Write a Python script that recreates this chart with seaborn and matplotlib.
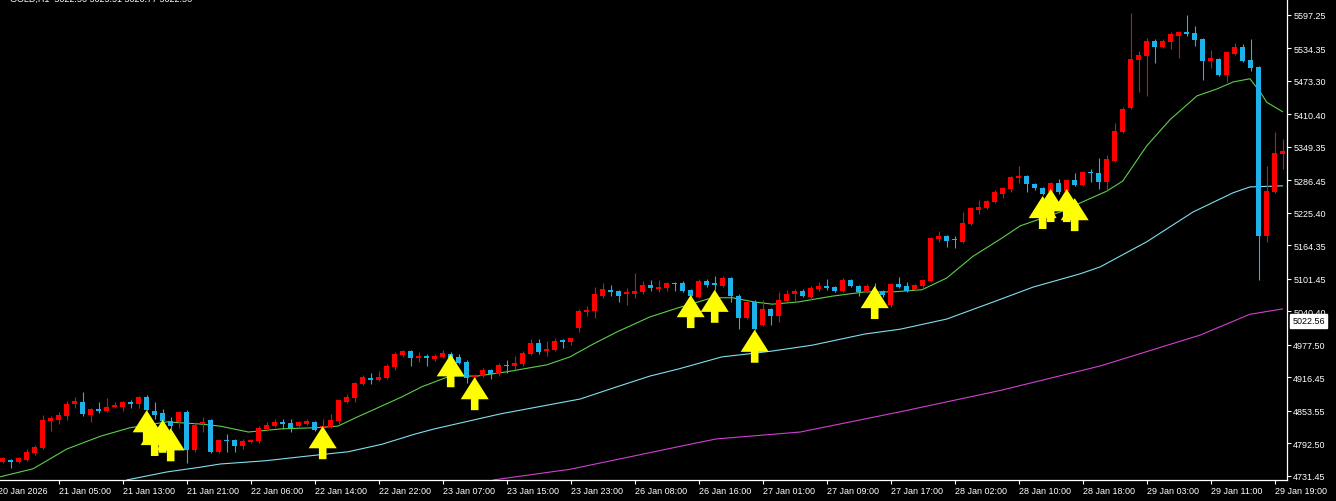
import numpy as np
import pandas as pd
import matplotlib
matplotlib.use("Agg")
import matplotlib.pyplot as plt
import matplotlib.transforms as mtransforms
from matplotlib.path import Path
from matplotlib.markers import MarkerStyle
import seaborn as sns

# GOLD H1 candles, one bar per hour (left -> right)
opens = [4758, 4761, 4758, 4761, 4775, 4784, 4835, 4837, 4844, 4867,
         4870, 4846, 4857, 4853, 4861, 4861, 4870, 4867, 4880, 4853,
         4850, 4835, 4833, 4852, 4780, 4829, 4837, 4777, 4799, 4799,
         4788, 4795, 4797, 4820, 4825, 4833, 4831, 4825, 4829, 4833,
         4823, 4823, 4835, 4870, 4878, 4904, 4915, 4912, 4915, 4936,
         4959, 4966, 4953, 4957, 4951, 4955, 4960, 4955, 4945, 4917,
         4919, 4930, 4923, 4940, 4938, 4942, 4960, 4981, 4966, 4968,
         4987, 4983, 5009, 5039, 5041, 5069, 5081, 5079, 5073, 5073,
         5077, 5090, 5082, 5084, 5094, 5094, 5081, 5067, 5097, 5094,
         5088, 5103, 5069, 5028, 5058, 5015, 5045, 5032, 5060, 5073,
         5079, 5067, 5082, 5088, 5086, 5079, 5099, 5088, 5077, 5081,
         5079, 5052, 5092, 5088, 5081, 5088, 5097, 5176, 5182, 5176,
         5171, 5204, 5231, 5234, 5246, 5261, 5270, 5291, 5295, 5280,
         5272, 5264, 5281, 5266, 5287, 5278, 5302, 5300, 5283, 5323,
         5377, 5422, 5512, 5520, 5548, 5537, 5546, 5557, 5565, 5563,
         5552, 5510, 5514, 5484, 5524, 5537, 5512, 5499, 5182, 5264,
         5336]
highs = [4767, 4763, 4767, 4782, 4790, 4846, 4844, 4852, 4872, 4880,
         4889, 4859, 4870, 4878, 4870, 4872, 4874, 4882, 4883, 4870,
         4857, 4842, 4853, 4855, 4833, 4842, 4838, 4801, 4810, 4801,
         4801, 4801, 4825, 4833, 4838, 4838, 4838, 4835, 4838, 4835,
         4838, 4848, 4876, 4885, 4908, 4921, 4925, 4928, 4942, 4964,
         4968, 4968, 4964, 4960, 4960, 4968, 4964, 4960, 4949, 4923,
         4934, 4932, 4944, 4949, 4957, 4966, 4989, 4989, 4985, 4990,
         4989, 4991, 5045, 5050, 5086, 5094, 5090, 5081, 5084, 5112,
         5097, 5099, 5099, 5096, 5095, 5097, 5082, 5101, 5101, 5107,
         5107, 5105, 5073, 5060, 5062, 5062, 5047, 5077, 5081, 5082,
         5082, 5088, 5096, 5101, 5088, 5103, 5101, 5090, 5092, 5094,
         5081, 5094, 5105, 5096, 5092, 5101, 5180, 5191, 5184, 5182,
         5227, 5236, 5249, 5249, 5268, 5274, 5295, 5313, 5296, 5281,
         5274, 5283, 5289, 5289, 5300, 5304, 5308, 5328, 5334, 5394,
         5424, 5600, 5529, 5554, 5552, 5552, 5565, 5567, 5597, 5576,
         5554, 5531, 5516, 5529, 5544, 5542, 5552, 5501, 5313, 5377,
         5364]
lows = [4756, 4746, 4756, 4760, 4771, 4782, 4816, 4829, 4837, 4859,
        4844, 4833, 4850, 4852, 4859, 4853, 4859, 4859, 4853, 4838,
        4829, 4820, 4822, 4756, 4777, 4814, 4775, 4775, 4777, 4777,
        4782, 4793, 4793, 4816, 4823, 4820, 4814, 4822, 4827, 4816,
        4820, 4822, 4829, 4868, 4870, 4902, 4904, 4910, 4913, 4930,
        4955, 4938, 4945, 4938, 4947, 4953, 4947, 4942, 4906, 4913,
        4917, 4913, 4919, 4925, 4932, 4938, 4959, 4960, 4957, 4966,
        4972, 4977, 5002, 5032, 5028, 5066, 5069, 5058, 5052, 5066,
        5073, 5079, 5077, 5079, 5079, 5077, 5066, 5066, 5086, 5081,
        5086, 5058, 5007, 5026, 5005, 5013, 5015, 5020, 5058, 5060,
        5067, 5062, 5079, 5081, 5077, 5077, 5086, 5069, 5075, 5073,
        5067, 5049, 5084, 5077, 5079, 5084, 5096, 5171, 5161, 5159,
        5169, 5203, 5223, 5233, 5244, 5253, 5264, 5281, 5264, 5268,
        5259, 5263, 5261, 5264, 5276, 5276, 5283, 5270, 5268, 5321,
        5375, 5420, 5452, 5445, 5507, 5535, 5533, 5516, 5557, 5539,
        5475, 5497, 5482, 5471, 5522, 5509, 5492, 5099, 5171, 5263,
        5308]
closes = [4765, 4758, 4765, 4777, 4786, 4837, 4840, 4846, 4867, 4872,
          4848, 4857, 4853, 4861, 4865, 4870, 4867, 4880, 4855, 4846,
          4835, 4825, 4852, 4780, 4827, 4833, 4777, 4799, 4797, 4788,
          4797, 4799, 4822, 4827, 4833, 4829, 4822, 4833, 4835, 4818,
          4825, 4837, 4874, 4880, 4906, 4917, 4912, 4917, 4938, 4960,
          4966, 4953, 4957, 4953, 4957, 4962, 4953, 4944, 4915, 4919,
          4930, 4923, 4940, 4938, 4944, 4962, 4981, 4964, 4970, 4985,
          4983, 4990, 5041, 5043, 5073, 5082, 5077, 5069, 5077, 5079,
          5090, 5084, 5086, 5094, 5092, 5079, 5069, 5097, 5090, 5090,
          5103, 5069, 5028, 5058, 5007, 5045, 5032, 5062, 5073, 5079,
          5069, 5084, 5088, 5084, 5079, 5099, 5088, 5077, 5088, 5077,
          5071, 5092, 5086, 5079, 5090, 5099, 5178, 5182, 5173, 5174,
          5206, 5234, 5236, 5248, 5264, 5272, 5293, 5295, 5280, 5272,
          5261, 5281, 5264, 5287, 5278, 5302, 5300, 5283, 5326, 5379,
          5420, 5514, 5522, 5548, 5537, 5548, 5561, 5565, 5561, 5550,
          5510, 5516, 5484, 5527, 5537, 5510, 5497, 5182, 5266, 5338,
          5341]

# time axis labels (bar index -> label)
tick_bars = [7, 15, 23, 31, 39, 47, 55, 63, 71, 79,
             87, 95, 103, 111, 119, 127, 135, 143, 151, 159]
tick_labels = ["21 Jan 05:00", "21 Jan 13:00", "21 Jan 21:00", "22 Jan 06:00",
               "22 Jan 14:00", "22 Jan 22:00", "23 Jan 07:00", "23 Jan 15:00",
               "23 Jan 23:00", "26 Jan 08:00", "26 Jan 16:00", "27 Jan 01:00",
               "27 Jan 09:00", "27 Jan 17:00", "28 Jan 02:00", "28 Jan 10:00",
               "28 Jan 18:00", "29 Jan 03:00", "29 Jan 11:00", "29 Jan 19:00"]
first_label = "20 Jan 2026"

price_ticks = [5597.25, 5534.35, 5473.30, 5410.40, 5349.35, 5286.45, 5225.40,
               5164.35, 5101.45, 5040.40, 4977.50, 4916.45, 4853.55, 4792.50,
               4731.45]
last_price = 5022.56
title = "GOLD,H1  5022.56 5025.51 5020.77 5022.56"

# moving averages
ma_fast_bar = [-0.3, 3.8, 8, 12.2, 15.9, 20.5, 24.7, 27.2, 30.7, 34.9, 39, 41.9,
               44, 47.4, 49.9, 52.4, 55.9, 59.3, 63, 68, 70.9, 73.8, 76.8, 80.9,
               84.4, 88.7, 91.2, 94, 96.2, 99.4, 103.7, 107.8, 111.3, 114.9, 118,
               121.3, 124.7, 127.2, 129.7, 132.2, 135, 138, 140, 143, 145.9, 149.3,
               151.8, 153.8, 155.9, 157.2, 158, 160]
ma_fast = [4730, 4745, 4782, 4806, 4822, 4833, 4829, 4825, 4814, 4820, 4822, 4825,
           4840, 4863, 4880, 4899, 4919, 4919, 4927, 4940, 4955, 4979, 5002, 5030,
           5047, 5066, 5066, 5058, 5054, 5058, 5069, 5077, 5077, 5081, 5103,
           5144, 5176, 5201, 5214, 5227, 5246, 5266, 5285, 5351, 5400, 5445,
           5458, 5471, 5477, 5452, 5433, 5415]

ma_mid_bar = [15.5, 20.5, 24.7, 27.2, 32.8, 38.2, 43.2, 47.4, 51.5, 54, 62.2, 72.2,
              76.8, 80.9, 84.4, 89.9, 94, 96.2, 101.2, 107.8, 112.2, 118, 123.8,
              128.8, 134.7, 137.2, 143, 148.8, 153.8, 155.9, 160]
ma_mid = [4724, 4739, 4748, 4754, 4760, 4769, 4777, 4791, 4810, 4820, 4848, 4876,
          4899, 4919, 4932, 4955, 4962, 4966, 4977, 4998, 5007, 5026, 5058,
          5086, 5111, 5124, 5171, 5227, 5263, 5274, 5276]

ma_slow_bar = [61.3, 70.9, 87.2, 89.2, 99.7, 112.2, 124.7, 137.2, 149.7, 155.9, 160]
ma_slow = [4724, 4744, 4795, 4801, 4814, 4852, 4892, 4938, 4996, 5035, 5045]

# signal arrows (bar index, price at arrow centre)
arrow_bar = [18, 19, 20, 21, 40, 56, 59, 86, 89, 94, 109, 130, 131, 133, 134]
arrow_price = [4824, 4800, 4806, 4790, 4794, 4929, 4886, 5040, 5050, 4975,
               5057, 5226, 5239, 5239, 5222]

UP = "#ff0000"
DOWN = "#1eb2ea"
FG = "white"

df = pd.DataFrame({"open": opens, "high": highs, "low": lows, "close": closes})
df["bar"] = np.arange(len(df))
df["color"] = np.where(df["close"] >= df["open"], UP, DOWN)
df["body_lo"] = df[["open", "close"]].min(axis=1)
df["body_h"] = np.maximum((df["close"] - df["open"]).abs(), 1.9)

sns.set_style("dark", {"axes.facecolor": "black", "figure.facecolor": "black"})
plt.rcParams["font.family"] = ["Liberation Sans", "DejaVu Sans"]

W, H = 1336, 502
fig = plt.figure(figsize=(W / 100, H / 100), dpi=100)
ax = fig.add_axes([0, 21 / H, 1287 / W, 481 / H])
ax.set_facecolor("black")
ax.grid(False)

# candles
ax.vlines(df["bar"], df["low"], df["high"], colors=df["color"], linewidth=0.8, zorder=3)
ax.bar(df["bar"], df["body_h"], bottom=df["body_lo"], width=0.62,
       color=df["color"], linewidth=0, zorder=3)

# moving averages
sns.lineplot(x=ma_fast_bar, y=ma_fast, ax=ax, color="#5ccf4a", linewidth=0.8, zorder=2)
sns.lineplot(x=ma_mid_bar, y=ma_mid, ax=ax, color="#7fe0ee", linewidth=0.8, zorder=2)
sns.lineplot(x=ma_slow_bar, y=ma_slow, ax=ax, color="#d040d0", linewidth=0.8, zorder=2)

# up arrow marker
verts = [(0, 0.5), (0.425, -0.17), (0.115, -0.17), (0.115, -0.5), (-0.115, -0.5),
         (-0.115, -0.17), (-0.425, -0.17), (0, 0.5)]
arrow = MarkerStyle(Path(verts, closed=True))
sns.scatterplot(x=arrow_bar, y=arrow_price, ax=ax, marker=arrow, s=565,
                color="#ffff00", linewidth=0, edgecolor="none", zorder=5)

ax.set_xlim((0 - 2.7) / 8, (1287 - 2.7) / 8)
ax.set_ylim(4723.94, 5626.7)

for side in ["left", "top"]:
    ax.spines[side].set_visible(False)
for side in ["right", "bottom"]:
    ax.spines[side].set_visible(True)
    ax.spines[side].set_color(FG)
    ax.spines[side].set_linewidth(0.9)

ax.yaxis.tick_right()
ax.set_yticks(price_ticks, [f"{p:.2f}" for p in price_ticks])
ax.set_xticks(tick_bars, tick_labels)
for t in ax.get_xticklabels():
    t.set_ha("left")
ax.tick_params(axis="both", colors=FG, labelcolor=FG, labelsize=6.5,
               direction="out", length=3, width=0.8, pad=1.5,
               bottom=True, right=True, left=False)

# leftmost date label, partly cut by the left edge as in the terminal
ax.annotate(first_label, xy=(-0.6, 0), xycoords=("data", "axes fraction"),
            xytext=(0, -4.5), textcoords="offset points", ha="left", va="top",
            color=FG, fontsize=6.5, annotation_clip=False)

trans = mtransforms.blended_transform_factory(ax.transAxes, ax.transData)
ax.annotate(f"{last_price:.2f}", xy=(1, last_price), xycoords=trans,
            xytext=(4, 0), textcoords="offset points", ha="left", va="center",
            color="black", fontsize=6.5, annotation_clip=False, zorder=10,
            bbox=dict(boxstyle="square,pad=0.25", fc="white", ec="white"))

fig.text(10 / W, 1 - 2 / H, title, color=FG, fontsize=6.5, va="baseline", ha="left")

fig.savefig("out.png", dpi=100, facecolor="black")
